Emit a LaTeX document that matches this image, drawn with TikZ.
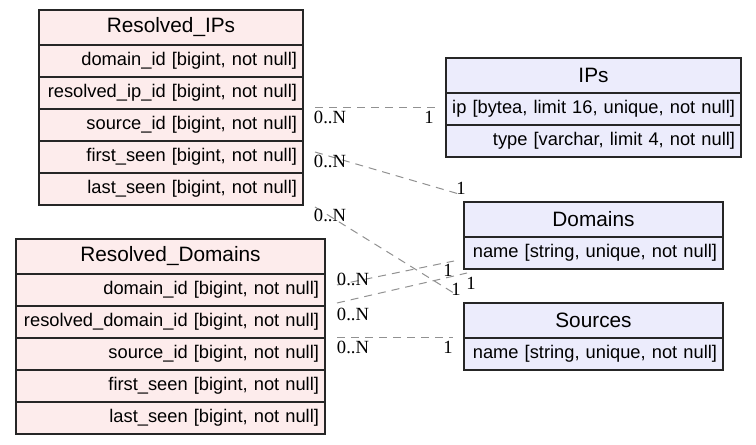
\documentclass[tikz,border=0pt]{standalone}
\usepackage{fontspec}
\setmainfont{Liberation Serif}
\setsansfont{Liberation Sans}
\usetikzlibrary{positioning, calc}

\definecolor{tablepink}{RGB}{253,236,236}
\definecolor{tableblue}{RGB}{236,236,252}
\definecolor{relgray}{RGB}{145,145,145}

% one field line, kept on one line and set flush right
\newcommand{\fieldline}[1]{\makebox[\hsize][r]{#1}}

\begin{document}
\begin{tikzpicture}[
  x=1pt, y=-1pt,
  cell/.style={draw=black!85, line width=1.2pt, outer sep=0pt, inner xsep=6pt,
    anchor=north west},
  head/.style={cell, minimum height=35pt, align=center,
    font=\sffamily\fontsize{20.8}{22}\selectfont},
  field/.style={cell, minimum height=32pt, align=right,
    font=\sffamily\fontsize{18.3}{20}\selectfont},
  rel/.style={draw=relgray, line width=1pt, dash pattern=on 8pt off 6pt},
  card/.style={inner sep=0pt, font=\fontsize{18.6}{20}\selectfont}
]
  \useasboundingbox (0,0) rectangle (756,445);

  % Resolved_IPs
  \node[head, fill=tablepink, text width=252pt] (rip) at (39,10) {Resolved\_IPs};
  \foreach \f [count=\i] in {domain\_id, resolved\_ip\_id, source\_id, first\_seen, last\_seen}
    \node[field, fill=tablepink, text width=252pt] (rip-\i) at (39,{13+32*\i})
      {\fieldline{\f\ [bigint, not null]}};

  % Resolved_Domains
  \node[head, fill=tablepink, text width=297pt] (rdo) at (16,239) {Resolved\_Domains};
  \foreach \f [count=\i] in {domain\_id, resolved\_domain\_id, source\_id, first\_seen, last\_seen}
    \node[field, fill=tablepink, text width=297pt] (rdo-\i) at (16,{242+32*\i})
      {\fieldline{\f\ [bigint, not null]}};

  % IPs
  \node[head, fill=tableblue, text width=283pt] (ips) at (446,58) {IPs};
  \node[field, fill=tableblue, text width=283pt] (ips-1) at (446,93)
    {\fieldline{ip [bytea, limit 16, unique, not null]}};
  \node[field, fill=tableblue, text width=283pt] (ips-2) at (446,125)
    {\fieldline{type [varchar, limit 4, not null]}};

  % Domains and Sources
  \node[head, fill=tableblue, text width=247pt] (dom) at (464,202) {Domains};
  \node[field, fill=tableblue, text width=247pt] (dom-1) at (464,237)
    {\fieldline{name [string, unique, not null]}};
  \node[head, fill=tableblue, text width=247pt] (src) at (464,303) {Sources};
  \node[field, fill=tableblue, text width=247pt] (src-1) at (464,338)
    {\fieldline{name [string, unique, not null]}};

  % Relation end points
  \coordinate (rip-ip)  at ([shift={(12,-2)}]rip-3.north east);
  \coordinate (rip-dom) at ([shift={(12,-5)}]rip-4.east);
  \coordinate (rip-src) at ([shift={(12,2)}]rip-5.south east);
  \coordinate (rdo-dom) at ([shift={(12,-5)}]rdo-1.east);
  \coordinate (rdo-res) at ([shift={(12,-3)}]rdo-2.north east);
  \coordinate (rdo-src) at ([shift={(12,-1)}]rdo-3.north east);
  \coordinate (ips-in)  at ([shift={(-11,-2)}]ips-1.west);
  \coordinate (dom-in1) at ([shift={(-5,-8)}]dom.north west);
  \coordinate (dom-in2) at ([shift={(-10,8)}]dom-1.west);
  \coordinate (dom-in3) at ([shift={(3,4)}]dom-1.south west);
  \coordinate (src-in1) at ([shift={(-7,-8)}]src.north west);
  \coordinate (src-in2) at ([shift={(-11,-1)}]src-1.north west);

  % Relations with cardinalities
  \foreach \a/\b/\ax/\ay/\bx/\by in {
    rip-ip/ips-in/15/10/-6/10, rip-dom/dom-in1/15/9/2/-6,
    rip-src/src-in1/15/8/-1/-6, rdo-dom/dom-in2/16/-6/-6/9,
    rdo-res/dom-in3/16/11/4/10, rdo-src/src-in2/16/10/-5/10} {
    \draw[rel] (\a) -- (\b);
    \node[card] (\a-many) at ([shift={(\ax,\ay)}]\a) {0..N};
    \node[card] (\b-one) at ([shift={(\bx,\by)}]\b) {1};
  }
\end{tikzpicture}
\end{document}
